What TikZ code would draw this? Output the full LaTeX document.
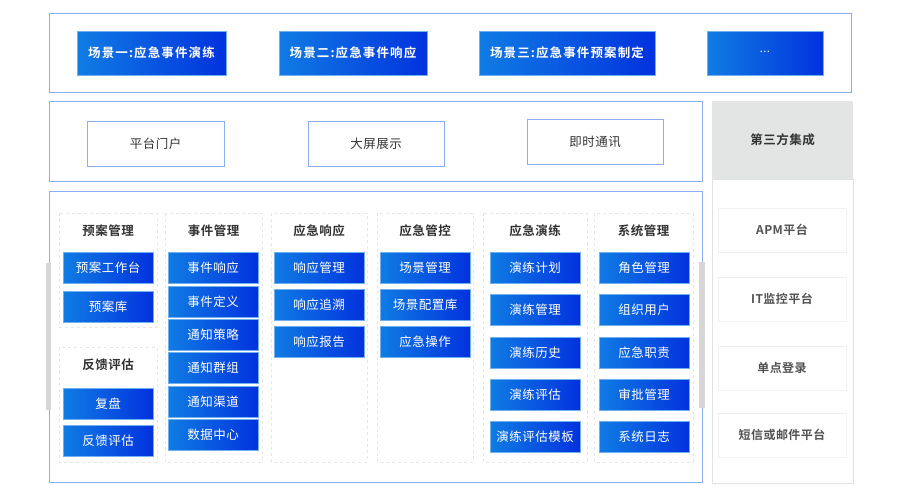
\documentclass[tikz,border=0pt]{standalone}
\usepackage{fontspec}
\setmainfont{Noto Sans CJK SC}[LetterSpace=4]
\newfontfamily\cjkbold{Noto Sans CJK SC Bold}[LetterSpace=4]
\newfontfamily\cjkboldwide{Noto Sans CJK SC Bold}[LetterSpace=9]
\usetikzlibrary{shadings}
\definecolor{panelblue}{RGB}{138,174,245}
\definecolor{gradL}{RGB}{16,124,228}
\definecolor{gradR}{RGB}{2,50,222}
\definecolor{dashgray}{RGB}{228,230,232}
\definecolor{headgray}{RGB}{227,228,228}
\definecolor{rgray}{RGB}{224,226,228}
\definecolor{boxgray}{RGB}{240,241,242}
\definecolor{txtdark}{RGB}{51,51,51}
\definecolor{scrollgray}{RGB}{214,214,214}
\tikzset{
  panel/.style={draw=panelblue, line width=1pt, fill=white},
  bbtn/.style={rectangle, left color=gradL, right color=gradR, draw=gradL!60!white, line width=0.4pt,
    text=white, font=\fontsize{12.5}{14}\selectfont, minimum width=90pt, minimum height=31pt, inner sep=0pt},
  topbtn/.style={bbtn, minimum height=44pt, font=\cjkboldwide\fontsize{12.5}{14}\selectfont},
  wbtn/.style={rectangle, draw=panelblue, line width=1pt, fill=white, text=txtdark,
    font=\fontsize{12.5}{14}\selectfont, minimum height=45pt, minimum width=136pt, inner sep=0pt},
  colbox/.style={draw=dashgray, dashed, line width=0.8pt},
  colhead/.style={text=txtdark, font=\cjkbold\fontsize{12.5}{14}\selectfont, inner sep=0pt},
  rbox/.style={rectangle, draw=boxgray, line width=0.8pt, fill=white, text=txtdark!85!white,
    font=\cjkbold\fontsize{12}{14}\selectfont, minimum width=128pt, minimum height=44pt, inner sep=0pt},
}
\begin{document}
\begin{tikzpicture}[x=1pt, y=-1pt]
\useasboundingbox (0,0) rectangle (900,496);
\fill[white] (0,0) rectangle (900,496);
% top panel
\draw[panel] (49,13) rectangle (851,92);
\node[topbtn, minimum width=149pt] (s1) at (151.5,53) {场景一:应急事件演练};
\node[topbtn, minimum width=148pt] (s2) at (353,53) {场景二:应急事件响应};
\node[topbtn, minimum width=176pt] (s3) at (567,53) {场景三:应急事件预案制定};
\node[topbtn, minimum width=116pt, font=\fontsize{11}{12}\selectfont] (s4) at (765,53) {\raisebox{3pt}{...}};
% middle panel
\draw[panel] (49,101) rectangle (702,181);
\node[wbtn, minimum width=137pt] (m1) at (155.5,143.5) {平台门户};
\node[wbtn] (m2) at (376,143.5) {大屏展示};
\node[wbtn] (m3) at (595,141.5) {即时通讯};
% right panel
\fill[headgray] (712,101) rectangle (853,179);
\draw[rgray, line width=0.8pt] (712,179) rectangle (853,483);
\node[colhead, text=txtdark] (rh) at (782.5,140) {第三方集成};
\node[rbox] (r1) at (782,230) {APM平台};
\node[rbox] (r2) at (782,299) {IT监控平台};
\node[rbox] (r3) at (782,368) {单点登录};
\node[rbox] (r4) at (782,435) {短信或邮件平台};
% bottom panel
\draw[panel] (49,191) rectangle (702,482);
\fill[scrollgray] (46,263) rectangle (51,410);
\fill[scrollgray] (699,262) rectangle (705,408);
% column boxes
\draw[colbox] (59,213) rectangle (157,327);
\draw[colbox] (59,347) rectangle (157,462);
\draw[colbox] (165,213) rectangle (262,462);
\draw[colbox] (271,213) rectangle (367,462);
\draw[colbox] (377,213) rectangle (473,462);
\draw[colbox] (483,213) rectangle (587,462);
\draw[colbox] (594,213) rectangle (693,462);
% column 1
\node[colhead] (h1) at (108,231) {预案管理};
\node[bbtn] (a1) at (108,267.5) {预案工作台};
\node[bbtn] (a2) at (108,306.5) {预案库};
\node[colhead] (h1b) at (108,365) {反馈评估};
\node[bbtn] (a3) at (108,403.5) {复盘};
\node[bbtn] (a4) at (108,441) {反馈评估};
% column 2
\node[colhead] (h2) at (213.5,231) {事件管理};
\node[bbtn] (b1) at (213,267.5) {事件响应};
\node[bbtn] (b2) at (213,301.5) {事件定义};
\node[bbtn] (b3) at (213,335) {通知策略};
\node[bbtn] (b4) at (213,368) {通知群组};
\node[bbtn] (b5) at (213,401.5) {通知渠道};
\node[bbtn] (b6) at (213,435) {数据中心};
% column 3
\node[colhead] (h3) at (319,231) {应急响应};
\node[bbtn] (c1) at (319,267.5) {响应管理};
\node[bbtn] (c2) at (319,304.5) {响应追溯};
\node[bbtn] (c3) at (319,341.5) {响应报告};
% column 4
\node[colhead] (h4) at (425,231) {应急管控};
\node[bbtn] (d1) at (425,267.5) {场景管理};
\node[bbtn] (d2) at (425,304.5) {场景配置库};
\node[bbtn] (d3) at (425,341.5) {应急操作};
% column 5
\node[colhead] (h5) at (535,231) {应急演练};
\node[bbtn] (e1) at (535,267.5) {演练计划};
\node[bbtn] (e2) at (535,310) {演练管理};
\node[bbtn] (e3) at (535,352.5) {演练历史};
\node[bbtn] (e4) at (535,394.5) {演练评估};
\node[bbtn] (e5) at (535,437) {演练评估模板};
% column 6
\node[colhead] (h6) at (643.5,231) {系统管理};
\node[bbtn] (f1) at (644,267.5) {角色管理};
\node[bbtn] (f2) at (644,310) {组织用户};
\node[bbtn] (f3) at (644,352.5) {应急职责};
\node[bbtn] (f4) at (644,394.5) {审批管理};
\node[bbtn] (f5) at (644,437) {系统日志};
\end{tikzpicture}
\end{document}
